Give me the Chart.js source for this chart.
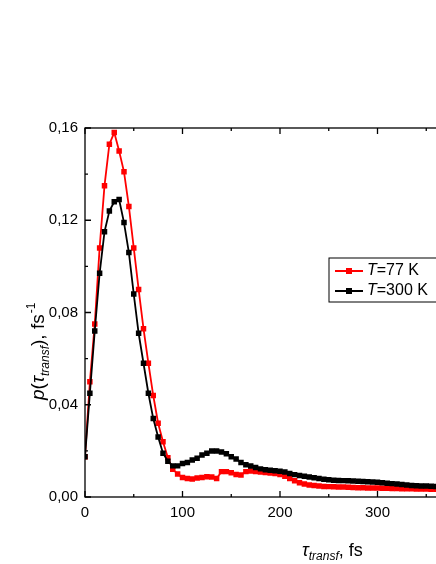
<!DOCTYPE html><html><head><meta charset="utf-8">
<script src="https://cdn.jsdelivr.net/npm/chart.js@4"></script>
<style>html,body{margin:0;padding:0;overflow:hidden;background:#fff}#w{width:560px;height:564px}</style></head><body>
<div id="w"><canvas id="c" width="560" height="564"></canvas></div>
<script>
const tau=[];for(let i=0;i<=72;i++)tau.push(i*5);
const red77=[0.0175,0.05,0.075,0.108,0.135,0.153,0.158,0.150,0.141,0.126,0.108,0.090,0.073,0.058,0.044,0.032,0.024,0.017,0.012,0.010,0.0085,0.008,0.0078,0.0082,0.0085,0.0088,0.0087,0.008,0.011,0.011,0.0105,0.0098,0.0095,0.011,0.0113,0.011,0.0108,0.0106,0.0104,0.0102,0.0098,0.009,0.008,0.007,0.0062,0.0056,0.0052,0.005,0.0048,0.0046,0.0045,0.0044,0.0043,0.0043,0.0042,0.0041,0.004,0.004,0.0039,0.0039,0.0039,0.0038,0.0038,0.0037,0.0037,0.0036,0.0036,0.0036,0.0035,0.0035,0.0035,0.0034,0.0034];
const black300=[0.0175,0.045,0.072,0.097,0.115,0.124,0.128,0.129,0.119,0.106,0.088,0.071,0.058,0.045,0.034,0.026,0.019,0.0155,0.0135,0.0135,0.0145,0.015,0.016,0.0168,0.0182,0.019,0.0199,0.0199,0.0195,0.0188,0.0175,0.0165,0.015,0.014,0.0134,0.0128,0.0122,0.0118,0.0116,0.0114,0.0112,0.0108,0.0102,0.0097,0.0093,0.009,0.0087,0.0083,0.008,0.0077,0.0075,0.0073,0.0072,0.0071,0.007,0.0069,0.0068,0.0067,0.0066,0.0065,0.0064,0.0062,0.006,0.0058,0.0056,0.0054,0.0052,0.005,0.0049,0.0048,0.0048,0.0047,0.0046];
const xTicks=[0,100,200,300,400];
const yTicks=[0,0.04,0.08,0.12,0.16];
const yLabels=["0,00","0,04","0,08","0,12","0,16"];
const F='"Liberation Sans", Arial, sans-serif';
const deco={id:'deco',afterDraw(ch){
 const c=ch.ctx,a=ch.chartArea,x=ch.scales.x,y=ch.scales.y;
 c.save();c.strokeStyle='#000';c.lineWidth=1.3;
 c.strokeRect(a.left,a.top,a.right-a.left,a.bottom-a.top);
 c.fillStyle='#000';c.font='15px '+F;
 for(let v=0;v<=400;v+=50){const px=x.getPixelForValue(v);const L=v%100?3:6;
  c.beginPath();c.moveTo(px,a.bottom);c.lineTo(px,a.bottom-L);c.moveTo(px,a.top);c.lineTo(px,a.top+L);c.stroke();}
 xTicks.forEach(v=>{c.textAlign='center';c.textBaseline='top';c.fillText(String(v),x.getPixelForValue(v),a.bottom+8);});
 for(let v=0;v<=0.1601;v+=0.02){const py=y.getPixelForValue(v);const L=Math.round(v*100)%4?3:6;
  c.beginPath();c.moveTo(a.left,py);c.lineTo(a.left+L,py);c.moveTo(a.right,py);c.lineTo(a.right-L,py);c.stroke();}
 yTicks.forEach((v,i)=>{c.textAlign='right';c.textBaseline='middle';c.fillText(yLabels[i],a.left-7,y.getPixelForValue(v));});
 // x title
 c.textAlign='left';c.textBaseline='alphabetic';
 let tx=302,ty=556;c.font='italic 18px '+F;c.fillText('τ',tx,ty);tx+=c.measureText('τ').width;
 c.font='italic 12px '+F;c.fillText('transf',tx,ty+4);tx+=c.measureText('transf').width;
 c.font='18px '+F;c.fillText(', fs',tx,ty);
 // y title
 c.save();c.translate(44,400);c.rotate(-Math.PI/2);
 tx=0;ty=0;c.font='italic 19px '+F;c.fillText('p',tx,ty);tx+=c.measureText('p').width;
 c.font='19px '+F;c.fillText('(',tx,ty);tx+=c.measureText('(').width;
 c.font='italic 19px '+F;c.fillText('τ',tx,ty);tx+=c.measureText('τ').width;
 c.font='italic 12px '+F;c.fillText('transf',tx,ty+5);tx+=c.measureText('transf').width;
 c.font='19px '+F;c.fillText('), fs',tx,ty);tx+=c.measureText('), fs').width;
 c.font='12px '+F;c.fillText('-1',tx+1,ty-9);
 c.restore();
 // legend
 const lx=329,ly=258;c.lineWidth=1;c.strokeRect(lx,ly,130,44);
 [['#ff0000','77 K',271],['#000','300 K',292]].forEach((d,i)=>{const yy=ly+13+i*20;
  c.strokeStyle=d[0];c.fillStyle=d[0];c.lineWidth=2;c.beginPath();c.moveTo(lx+6,yy);c.lineTo(lx+34,yy);c.stroke();
  c.fillRect(lx+17,yy-3,6,6);c.fillStyle='#000';c.textBaseline='middle';
  let t=lx+38;c.font='italic 16px '+F;c.fillText('T',t,yy);t+=c.measureText('T').width;
  c.font='16px '+F;c.fillText('='+d[1],t,yy);});
 c.restore();}};
new Chart(document.getElementById('c'),{type:'line',
 data:{labels:tau,datasets:[
  {data:black300.map((v,i)=>({x:tau[i],y:v})),borderColor:'#000',backgroundColor:'#000',borderWidth:1.8,pointStyle:'rect',pointRadius:2.6,tension:0},
  {data:red77.map((v,i)=>({x:tau[i],y:v})),borderColor:'#ff0000',backgroundColor:'#ff0000',borderWidth:1.8,pointStyle:'rect',pointRadius:2.6,tension:0}]},
 options:{responsive:false,animation:false,events:[],
  layout:{padding:{top:128,right:85,left:0,bottom:0}},
  plugins:{legend:{display:false},tooltip:{enabled:false}},
  scales:{x:{type:'linear',min:0,max:400,ticks:{display:false},grid:{display:false},border:{display:false},afterFit(s){s.height=67;}},
   y:{min:0,max:0.16,ticks:{display:false},grid:{display:false},border:{display:false},afterFit(s){s.width=85;}}}},
 plugins:[deco]});
</script></body></html>
